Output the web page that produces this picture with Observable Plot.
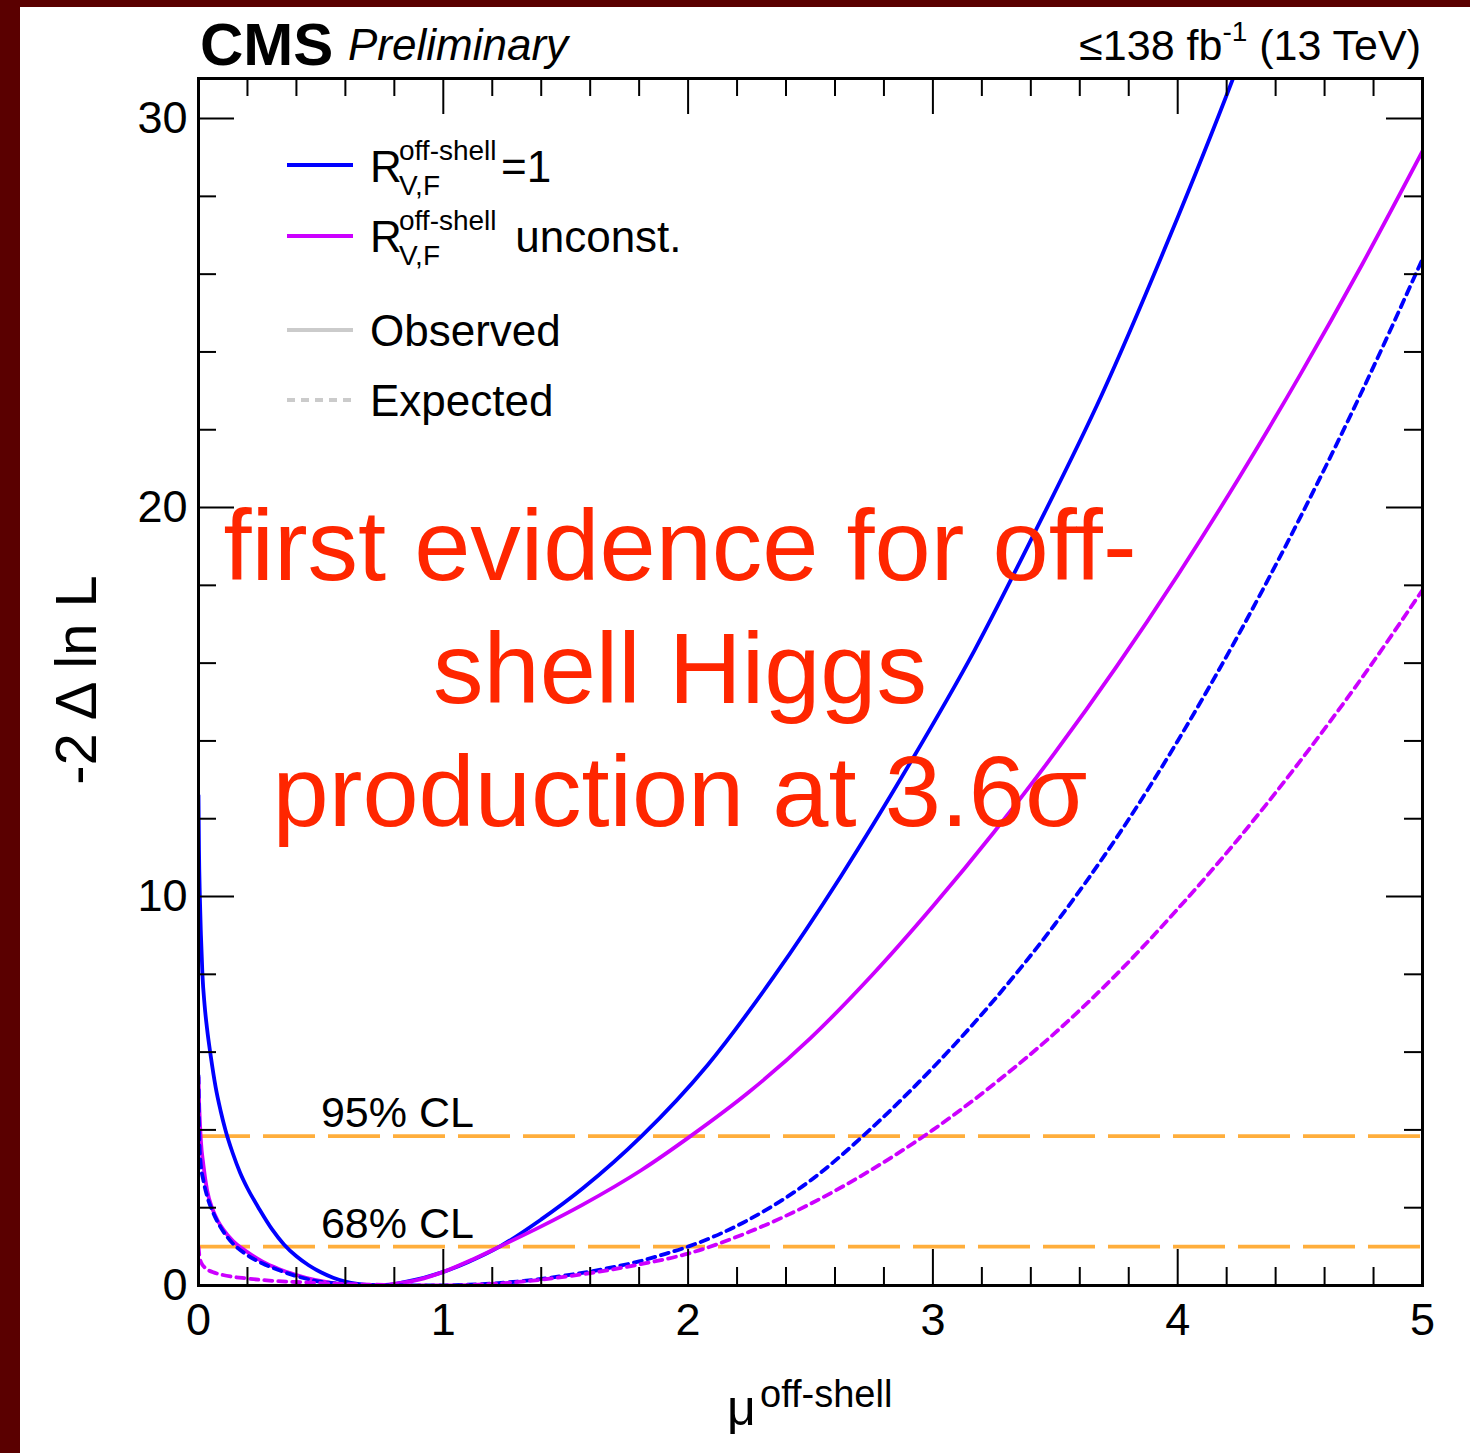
<!DOCTYPE html>
<html>
<head>
<meta charset="utf-8">
<script src="https://cdn.jsdelivr.net/npm/d3@7"></script>
<script src="https://cdn.jsdelivr.net/npm/@observablehq/plot@0.6"></script>
<style>
  html, body { margin: 0; padding: 0; width: 1470px; height: 1453px; overflow: hidden; background: #5a0000; }
  #sheet { position: absolute; left: 20px; top: 7px; width: 1450px; height: 1446px; background: #ffffff; }
  #chart { position: absolute; left: 0; top: 0; }
  #chart svg { display: block; }
</style>
</head>
<body>
<div id="sheet"></div>
<div id="chart"></div>
<script>
// -2 Δ ln L scans versus the off-shell signal strength

// Observed, R_V,F^off-shell = 1
const muObsFixed = [0, 0.002, 0.0055, 0.01, 0.016, 0.025, 0.035, 0.05, 0.07, 0.09, 0.11, 0.14, 0.17, 0.2, 0.25, 0.3, 0.35, 0.4, 0.45, 0.5, 0.55, 0.6, 0.65, 0.7, 0.76, 0.85, 0.92, 1.0, 1.1, 1.23, 1.4, 1.57, 1.81, 2.08, 2.35, 2.625, 2.9, 3.17, 3.415, 3.69, 3.96, 4.226, 4.32];
const nllObsFixed = [12.6, 11.2, 10.0, 9.0, 8.0, 7.2, 6.6, 5.9, 5.1, 4.5, 4.0, 3.4, 2.9, 2.5, 1.95, 1.45, 1.05, 0.75, 0.52, 0.34, 0.2, 0.1, 0.04, 0.01, 0.0, 0.1, 0.2, 0.35, 0.6, 1.0, 1.7, 2.5, 3.84, 5.67, 7.94, 10.53, 13.36, 16.33, 19.35, 22.9, 26.85, 31.03, 32.6];

// Observed, R_V,F^off-shell unconstrained
const muObsFree = [0, 0.002, 0.005, 0.01, 0.02, 0.035, 0.058, 0.08, 0.1, 0.14, 0.195, 0.26, 0.33, 0.4, 0.47, 0.55, 0.62, 0.72, 0.8, 0.9, 1.0, 1.12, 1.23, 1.4, 1.57, 1.81, 2.01, 2.25, 2.5, 2.75, 3.0, 3.25, 3.5, 3.75, 4.0, 4.25, 4.5, 4.75, 5.0];
const nllObsFree = [5.35, 4.8, 4.3, 3.7, 3.1, 2.45, 1.95, 1.65, 1.45, 1.15, 0.88, 0.62, 0.42, 0.27, 0.15, 0.06, 0.015, 0.0, 0.04, 0.15, 0.35, 0.67, 1.0, 1.52, 2.08, 2.97, 3.84, 4.98, 6.36, 7.97, 9.75, 11.66, 13.71, 15.91, 18.26, 20.76, 23.41, 26.21, 29.16];

// Expected, R_V,F^off-shell = 1
const muExpFixed = [0, 0.001, 0.003, 0.008, 0.02, 0.035, 0.058, 0.09, 0.13, 0.195, 0.26, 0.33, 0.4, 0.47, 0.55, 0.65, 0.75, 0.85, 0.95, 1.05, 1.2, 1.3, 1.4, 1.5, 1.6, 1.7, 1.8, 1.9, 2.0, 2.25, 2.5, 2.75, 3.0, 3.25, 3.5, 3.75, 4.0, 4.25, 4.5, 4.75, 5.0];
const nllExpFixed = [5.4, 4.6, 3.85, 3.2, 2.7, 2.3, 1.9, 1.5, 1.15, 0.8, 0.57, 0.39, 0.24, 0.13, 0.06, 0.02, 0.005, 0.0, 0.0, 0.01, 0.05, 0.1, 0.17, 0.26, 0.36, 0.48, 0.62, 0.8, 1.0, 1.7, 2.7, 4.05, 5.6, 7.34, 9.3, 11.51, 14.0, 16.75, 19.74, 22.95, 26.39];

// Expected, R_V,F^off-shell unconstrained
const muExpFree = [0, 0.003, 0.01, 0.03, 0.06, 0.1, 0.2, 0.3, 0.4, 0.6, 0.8, 1.0, 1.2, 1.4, 1.6, 1.8, 2.0, 2.25, 2.5, 2.75, 3.0, 3.25, 3.5, 3.75, 4.0, 4.25, 4.5, 4.75, 5.0];
const nllExpFree = [1.0, 0.8, 0.6, 0.44, 0.34, 0.27, 0.18, 0.12, 0.09, 0.04, 0.01, 0.0, 0.04, 0.15, 0.32, 0.54, 0.82, 1.38, 2.1, 2.98, 4.0, 5.18, 6.5, 8.0, 9.68, 11.5, 13.48, 15.6, 17.88];

// Confidence-level thresholds
const clLevels = [3.84, 1.0];
const clLabels = ["95% CL", "68% CL"];
const clLabelMu = 0.5;

// Axis ticks
const xMajor = [0, 1, 2, 3, 4, 5];
const xMinor = [0.2, 0.4, 0.6, 0.8, 1.2, 1.4, 1.6, 1.8, 2.2, 2.4, 2.6, 2.8, 3.2, 3.4, 3.6, 3.8, 4.2, 4.4, 4.6, 4.8];
const yMajor = [0, 10, 20, 30];
const yMinor = [2, 4, 6, 8, 12, 14, 16, 18, 22, 24, 26, 28];
const yTop = 31.03;

// Legend and annotation text
const legendModels = ["=1", " unconst."];
const legendKinds = ["Observed", "Expected"];
const headline = ["first evidence for off-", "shell Higgs", "production at 3.6σ"];

// Layout and styling
const FONT = "'Liberation Sans', Arial, Helvetica, sans-serif";
const BLUE = "#0000ff", MAGENTA = "#cc00ff", ORANGE = "#ffae3c", RED = "#ff2600", GREY = "#cbcbcb";
const W = 1470, H = 1453;
const M = {left: 198, right: 48, top: 78, bottom: 168};
const plotW = W - M.left - M.right;
const plotH = H - M.top - M.bottom;
const majorLen = 36, minorLen = 18;
const lineW = 3.8, dotted = "8,6";

const table = (mu, nll) => mu.map((m, i) => ({mu: m, nll: nll[i]}));
const obsFixed = table(muObsFixed, nllObsFixed);
const obsFree = table(muObsFree, nllObsFree);
const expFixed = table(muExpFixed, nllExpFixed);
const expFree = table(muExpFree, nllExpFree);
const clRows = clLevels.map((v, i) => ({level: v, label: clLabels[i], mu: clLabelMu}));

const chart = Plot.plot({
  width: W,
  height: H,
  marginLeft: M.left,
  marginRight: M.right,
  marginTop: M.top,
  marginBottom: M.bottom,
  style: {background: "transparent", fontFamily: FONT, color: "black"},
  x: {domain: [0, 5], label: null},
  y: {domain: [0, yTop], label: null},
  marks: [
    // confidence-level lines
    Plot.ruleY(clRows, {y: "level", stroke: ORANGE, strokeWidth: lineW, strokeDasharray: "52,13"}),
    Plot.text(clRows, {x: "mu", y: "level", text: "label", textAnchor: "start", lineAnchor: "bottom", dy: -9, fontSize: 43, fill: "black"}),

    // likelihood scans
    Plot.line(obsFixed, {x: "mu", y: "nll", stroke: BLUE, strokeWidth: lineW, curve: "monotone-x", clip: true}),
    Plot.line(obsFree, {x: "mu", y: "nll", stroke: MAGENTA, strokeWidth: lineW, curve: "monotone-x", clip: true}),
    Plot.line(expFixed, {x: "mu", y: "nll", stroke: BLUE, strokeWidth: lineW, strokeDasharray: dotted, curve: "monotone-x", clip: true}),
    Plot.line(expFree, {x: "mu", y: "nll", stroke: MAGENTA, strokeWidth: lineW, strokeDasharray: dotted, curve: "monotone-x", clip: true}),

    // inward ticks on all four sides
    Plot.tickX(xMajor, {x: d => d, insetTop: plotH - majorLen, strokeWidth: 2}),
    Plot.tickX(xMinor, {x: d => d, insetTop: plotH - minorLen, strokeWidth: 2}),
    Plot.tickX(xMajor, {x: d => d, insetBottom: plotH - majorLen, strokeWidth: 2}),
    Plot.tickX(xMinor, {x: d => d, insetBottom: plotH - minorLen, strokeWidth: 2}),
    Plot.tickY(yMajor, {y: d => d, insetRight: plotW - majorLen, strokeWidth: 2}),
    Plot.tickY(yMinor, {y: d => d, insetRight: plotW - minorLen, strokeWidth: 2}),
    Plot.tickY(yMajor, {y: d => d, insetLeft: plotW - majorLen, strokeWidth: 2}),
    Plot.tickY(yMinor, {y: d => d, insetLeft: plotW - minorLen, strokeWidth: 2}),

    // tick labels
    Plot.axisX(xMajor, {anchor: "bottom", tickSize: 0, tickPadding: 18, fontSize: 45, label: null, tickFormat: d3.format("d")}),
    Plot.axisY(yMajor, {anchor: "left", tickSize: 0, tickPadding: 11, fontSize: 45, label: null, tickFormat: d3.format("d")}),

    Plot.frame({stroke: "black", strokeWidth: 3})
  ]
});

document.getElementById("chart").appendChild(chart);
const svg = d3.select(chart);

// text with per-part sizes and baselines
function rich(parts, attrs = {}) {
  const t = svg.append("text").attr("font-family", FONT).attr("fill", "black").attr("text-anchor", "start");
  Object.entries(attrs).forEach(([k, v]) => t.attr(k, v));
  parts.forEach(p => {
    const s = t.append("tspan").text(p.text).attr("font-size", p.size);
    ["x", "y", "dy"].forEach(k => { if (p[k] != null) s.attr(k, p[k]); });
    if (p.weight) s.attr("font-weight", p.weight);
    if (p.style) s.attr("font-style", p.style);
  });
  return t;
}

// header
rich([{text: "CMS", x: 200, y: 65, size: 60, weight: "bold"}]);
rich([{text: "Preliminary", x: 348, y: 60, size: 44, style: "italic"}]);
rich([
  {text: "≤138 fb", size: 43},
  {text: "-1", size: 28, dy: -19},
  {text: " (13 TeV)", size: 43, dy: 19}
], {x: 1421, y: 60, "text-anchor": "end"});

// axis titles
rich([{text: "-2 Δ ln L", size: 58}], {transform: "translate(96,680) rotate(-90)", "text-anchor": "middle"});
rich([
  {text: "μ", x: 727, y: 1425, size: 50},
  {text: "off-shell", x: 760, y: 1407, size: 38}
]);

// legend
const legendColors = [BLUE, MAGENTA];
legendModels.forEach((tail, i) => {
  const yl = 165 + i * 71, yb = 182 + i * 70;
  svg.append("line").attr("x1", 287).attr("x2", 353).attr("y1", yl).attr("y2", yl)
    .attr("stroke", legendColors[i]).attr("stroke-width", lineW);
  rich([
    {text: "R", x: 370, y: yb, size: 44},
    {text: "V,F", x: 399, y: yb + 13, size: 28},
    {text: "off-shell", x: 399, y: yb - 22, size: 28},
    {text: tail, x: i === 0 ? 501 : 503, y: yb, size: 44}
  ]);
});
legendKinds.forEach((kind, i) => {
  const yl = 330 + i * 70;
  svg.append("line").attr("x1", 287).attr("x2", 353).attr("y1", yl).attr("y2", yl)
    .attr("stroke", GREY).attr("stroke-width", lineW)
    .attr("stroke-dasharray", i === 1 ? dotted : null);
  rich([{text: kind, x: 370, y: yl + 16, size: 44}]);
});

// annotation
headline.forEach((line, i) => {
  rich([{text: line, size: 101}], {x: 680, y: 580 + i * 123, "text-anchor": "middle", fill: RED});
});
</script>
</body>
</html>
